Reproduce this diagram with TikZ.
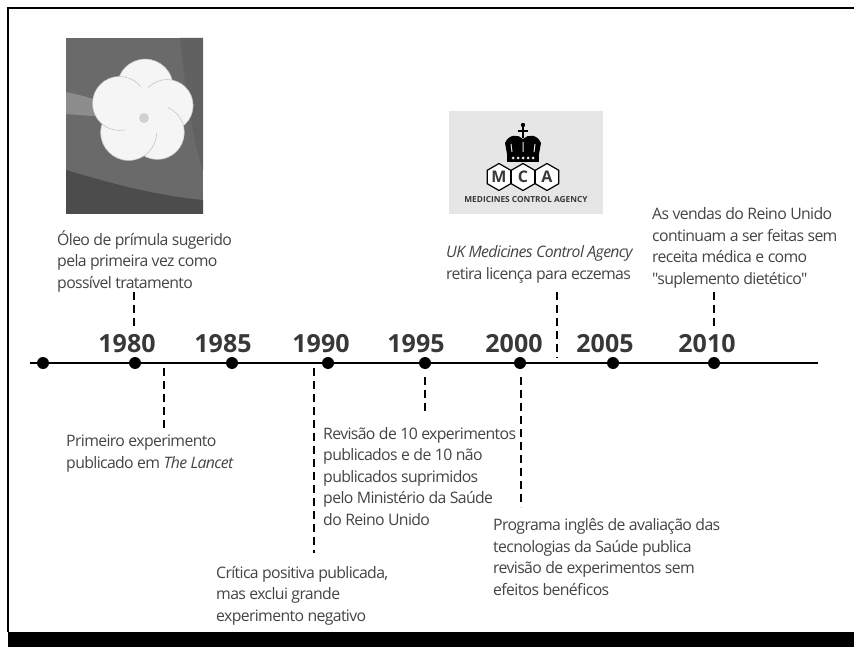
\documentclass[tikz,border=0pt]{standalone}
\usepackage{fontspec}
\setmainfont{Open Sans}
\newfontfamily\notefont[LetterSpace=-4]{Open Sans}
\usetikzlibrary{shapes.geometric}
\definecolor{notegray}{HTML}{444444}
\definecolor{yeargray}{HTML}{383838}
\definecolor{logobg}{HTML}{E6E6E6}
\definecolor{photobg}{HTML}{6A6A6A}
\tikzset{
  dot/.style={circle,fill=black,inner sep=0pt,minimum size=12pt},
  yearlbl/.style={font=\fontsize{25}{25}\selectfont\bfseries,text=yeargray,inner sep=0pt,anchor=base},
  note/.style={font=\notefont\fontsize{15.8}{21.5}\selectfont,text=notegray,align=left,inner sep=0pt,anchor=base west},
  leader/.style={line width=2.6pt,dash pattern=on 8pt off 5pt},
  hexcell/.style={regular polygon,regular polygon sides=6,shape border rotate=30,draw=black,line width=1.2pt,fill=white,minimum size=27pt,inner sep=0pt,font=\fontsize{16}{16}\selectfont\bfseries,text=yeargray},
  petal/.style={fill=black!4,draw=black!25,line width=0.5pt}
}

\begin{document}
\begin{tikzpicture}[x=1pt,y=-1pt]
\useasboundingbox (0,0) rectangle (854,647);
\draw[line width=2pt] (854,8) -- (8,8) -- (8,632);
\fill (8,632) rectangle (854,647);

\fill[photobg] (66,38) rectangle (203,214);
\fill[black!70] (66,170) .. controls (100,180) and (150,195) .. (203,200) -- (203,214) -- (66,214) -- cycle;
\fill[black!62] (180,38) .. controls (185,90) and (195,150) .. (203,170) -- (203,38) -- cycle;
\fill[black!45] (66,92) .. controls (95,98) and (115,106) .. (130,114) .. controls (110,118) and (90,116) .. (66,114) -- cycle;
\foreach \a/\r in {95/28,165/26,235/27,305/28,20/27}
  \fill[petal] (143,112) ++(\a:-25) circle[radius=\r];
\fill[black!4] (143,112) circle[radius=25];
\fill[black!18] (144,118) circle[radius=5];

\fill[logobg] (449,111) rectangle (603,214);
\fill (523,125) circle[radius=2.2];
\draw[line width=2pt] (523,126) -- (523,138) (518,131) -- (528,131);
\fill (507,154) -- (505,143) .. controls (509,134) and (518,134) .. (523,139) .. controls (528,134) and (537,134) .. (541,143) -- (539,154) -- cycle;
\fill (507,154) rectangle (539,162);
\foreach \x in {512,517,522,527,532}
  \fill[logobg] (\x+1,158) circle[radius=1.5];
\draw[logobg,line width=1pt] (512,152) -- (511,144) (523,152) -- (523,142) (534,152) -- (535,144);
\node[hexcell] (hexm) at (499,177) {M};
\node[hexcell] (hexc) at (523,177) {C};
\node[hexcell] (hexa) at (547,177) {A};
\node[font=\fontsize{8.3}{8.3}\selectfont\bfseries,text=yeargray,inner sep=0pt] (mcaname) at (526,200) {MEDICINES CONTROL AGENCY};

\coordinate (tlstart) at (30,363);
\coordinate (tlend) at (818,363);
\draw[line width=2.5pt] (tlstart) -- (tlend);
\foreach \x/\n in {43/0,135/1,232/2,328/3,425/4,520/5,613/6,714/7}
  \node[dot] (d\n) at (\x,363) {};
\foreach \x/\yr in {127/1980,223/1985,321/1990,416/1995,514/2000,605/2005,707/2010}
  \node[yearlbl] (y\yr) at (\x,352) {\yr};

\node[note] (oleo) at (57,288) {Óleo de prímula sugerido\\pela primeira vez como\\possível tratamento};
\node[note] (lancet) at (66,468) {Primeiro experimento\\publicado em \textit{The Lancet}};
\node[note] (revisao) at (323,525) {Revisão de 10 experimentos\\publicados e de 10 não\\publicados suprimidos\\pelo Ministério da Saúde\\do Reino Unido};
\node[note] (critica) at (216,621) {Crítica positiva publicada,\\mas exclui grande\\experimento negativo};
\node[note] (programa) at (493,595) {Programa inglês de avaliação das\\tecnologias da Saúde publica\\revisão de experimentos sem\\efeitos benéficos};
\node[note] (agency) at (446,279) {\textit{UK Medicines Control Agency}\\retira licença para eczemas};
\node[note] (vendas) at (652,284) {As vendas do Reino Unido\\continuam a ser feitas sem\\receita médica e como\\"suplemento dietético"};

\coordinate (a1) at (134,292); \coordinate (b1) at (134,327);
\coordinate (a2) at (164,368); \coordinate (b2) at (164,429);
\coordinate (a3) at (314,368); \coordinate (b3) at (314,553);
\coordinate (a4) at (425,377); \coordinate (b4) at (425,413);
\coordinate (a5) at (521,377); \coordinate (b5) at (521,507);
\coordinate (a6) at (557,292); \coordinate (b6) at (557,358);
\coordinate (a7) at (714,292); \coordinate (b7) at (714,327);
\foreach \i in {1,...,7}
  \draw[leader] (a\i) -- (b\i);
\end{tikzpicture}
\end{document}
